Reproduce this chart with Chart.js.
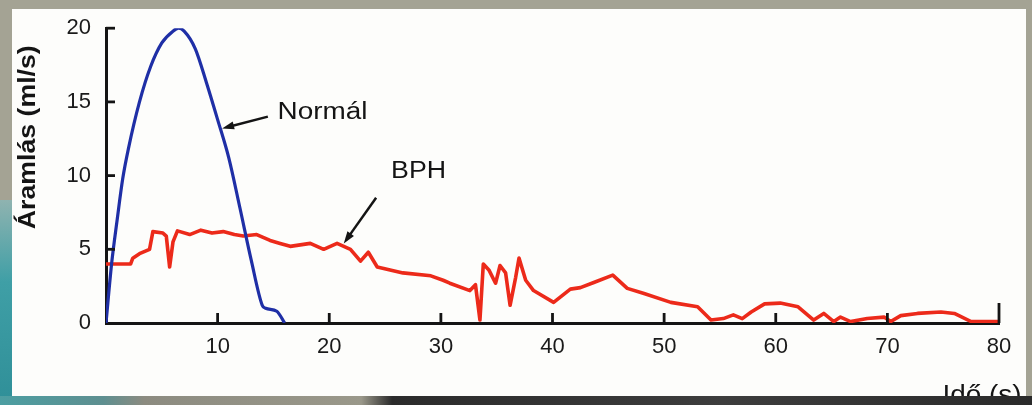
<!DOCTYPE html>
<html>
<head>
<meta charset="utf-8">
<script src="https://cdn.jsdelivr.net/npm/chart.js@4/dist/chart.umd.min.js"></script>
<style>
  html, body { margin: 0; padding: 0; }
  body { width: 1032px; height: 405px; overflow: hidden; position: relative; background: #a4a394; }
  #panel { position: absolute; left: 12px; top: 9px; width: 1014px; height: 390px; background: #fdfdfb; }
  #teal { position: absolute; left: 0; top: 200px; width: 12px; height: 205px; background: linear-gradient(#8fb3b0, #3f9fa6 40%, #2f8f98); }
  #wrap { position: absolute; left: 0; top: 0; width: 1032px; height: 405px; }
  #bottom { position: absolute; left: 0; top: 396px; width: 1032px; height: 9px; z-index: 2;
    background: linear-gradient(to right, #4c9ea2 0, #5e8f90 10%, #8c8b80 14%, #9a988a 35%, #2b2b2b 38%, #3d3d3d 70%, #2a2a2a 100%); }
</style>
</head>
<body>
<div id="panel"></div>
<div id="teal"></div>
<div id="wrap"><canvas id="flow"></canvas></div>
<div id="bottom"></div>
<script>
// ========== data ==========
const normalTime = [0, 0.5, 1, 1.5, 2, 3, 4, 5, 6, 6.5, 7, 8, 9, 10, 11, 12, 13, 14, 14.3, 15.3, 16];
const normalFlow = [0, 4, 7, 9.8, 11.8, 15, 17.4, 19, 19.8, 20, 19.8, 18.6, 16.3, 13.8, 11.2, 7.8, 4.3, 1.2, 1.0, 0.8, 0];

const bphTime = [0, 2.2, 2.4, 3.0, 3.9, 4.2, 5.1, 5.4, 5.7, 6.0, 6.4, 7.5, 8.5, 9.5, 10.5, 11.5, 12.3, 13.5,
  14.7, 15.6, 16.5, 18.3, 19.5, 20.7, 21.9, 22.8, 23.5, 24.3, 26.6, 29.1, 30.2, 30.8, 32.6, 33.1, 33.5, 33.8,
  34.3, 34.9, 35.3, 35.8, 36.2, 36.7, 37.0, 37.6, 38.3, 40.1, 41.6, 42.5, 43.7, 45.4, 46.7, 48.2, 50.6, 53.0,
  54.2, 55.3, 56.2, 57.0, 57.8, 59.0, 60.4, 62.0, 63.4, 64.3, 65.2, 65.8, 66.7, 68.2, 69.7, 70.3, 71.2, 72.7,
  74.8, 76.0, 77.5, 80];
const bphFlow = [4.0, 4.0, 4.4, 4.7, 5.0, 6.2, 6.1, 5.9, 3.8, 5.5, 6.25, 6.0, 6.3, 6.1, 6.2, 6.0, 5.9, 6.0,
  5.6, 5.4, 5.2, 5.4, 5.0, 5.4, 5.0, 4.2, 4.8, 3.8, 3.4, 3.2, 2.9, 2.7, 2.2, 2.6, 0.2, 4.0,
  3.6, 2.7, 3.9, 3.4, 1.2, 3.1, 4.4, 2.9, 2.2, 1.4, 2.3, 2.4, 2.75, 3.25, 2.35, 2.0, 1.4, 1.1,
  0.2, 0.3, 0.55, 0.3, 0.75, 1.3, 1.35, 1.1, 0.2, 0.65, 0.1, 0.4, 0.1, 0.3, 0.4, 0.1, 0.5, 0.65,
  0.75, 0.65, 0.1, 0.1];

const xTicks = [0, 10, 20, 30, 40, 50, 60, 70, 80];
const yTicks = [0, 5, 10, 15, 20];

const yTitle = 'Áramlás (ml/s)';
const xTitle = 'Idő (s)';
const normalLabel = 'Normál';
const bphLabel = 'BPH';

// ========== helpers ==========
function stretchedText(ctx, str, px, py, font, width, angle) {
  ctx.save();
  ctx.font = font;
  ctx.translate(px, py);
  ctx.rotate(angle || 0);
  const w = ctx.measureText(str).width;
  ctx.scale(width / w, 1);
  ctx.textAlign = 'center';
  ctx.textBaseline = 'middle';
  ctx.fillText(str, 0, 0);
  ctx.restore();
}

function arrow(ctx, x1, y1, x2, y2) {
  const a = Math.atan2(y2 - y1, x2 - x1);
  ctx.beginPath();
  ctx.moveTo(x1, y1);
  ctx.lineTo(x2 - 8 * Math.cos(a), y2 - 8 * Math.sin(a));
  ctx.stroke();
  ctx.beginPath();
  ctx.moveTo(x2, y2);
  ctx.lineTo(x2 - 12 * Math.cos(a) + 4 * Math.sin(a), y2 - 12 * Math.sin(a) - 4 * Math.cos(a));
  ctx.lineTo(x2 - 12 * Math.cos(a) - 4 * Math.sin(a), y2 - 12 * Math.sin(a) + 4 * Math.cos(a));
  ctx.closePath();
  ctx.fill();
}

// ticks pointing inward, labels, arrows
const extras = {
  id: 'extras',
  afterDraw(chart) {
    const { ctx, scales: { x, y } } = chart;
    ctx.save();
    ctx.strokeStyle = '#141414';
    ctx.fillStyle = '#141414';
    ctx.lineWidth = 2.8;
    x.ticks.forEach(t => {
      if (t.value <= 0) return;
      const px = x.getPixelForValue(t.value);
      const len = t.value === 80 ? 20 : 10;
      ctx.beginPath(); ctx.moveTo(px, y.bottom); ctx.lineTo(px, y.bottom - len); ctx.stroke();
    });
    y.ticks.forEach(t => {
      if (t.value <= 0) return;
      const py = y.getPixelForValue(t.value);
      ctx.beginPath(); ctx.moveTo(x.left, py); ctx.lineTo(x.left + 9, py); ctx.stroke();
    });

    // series labels
    stretchedText(ctx, normalLabel, x.getPixelForValue(19.4), y.getPixelForValue(14.3), '23px "Liberation Sans", Arial, sans-serif', 90);
    stretchedText(ctx, bphLabel, x.getPixelForValue(28.0), y.getPixelForValue(10.3), '23px "Liberation Sans", Arial, sans-serif', 55);
    ctx.lineWidth = 2.5;
    arrow(ctx, x.getPixelForValue(14.5), y.getPixelForValue(14.0), x.getPixelForValue(10.4), y.getPixelForValue(13.2));
    arrow(ctx, x.getPixelForValue(24.2), y.getPixelForValue(8.5), x.getPixelForValue(21.3), y.getPixelForValue(5.4));

    // axis titles
    stretchedText(ctx, yTitle, 29, y.getPixelForValue(12.6), 'bold 23px "Liberation Sans", Arial, sans-serif', 184, -Math.PI / 2);
    stretchedText(ctx, xTitle, 982, 396, '25px "Liberation Sans", Arial, sans-serif', 79);
    ctx.restore();
  }
};

// ========== chart ==========
function drawChart() {
  const ctx = document.getElementById('flow').getContext('2d');
  const tickFont = { family: '"Liberation Sans", Arial, sans-serif', size: 22 };

  new Chart(ctx, {
    type: 'line',
    data: {
      datasets: [
        {
          label: normalLabel,
          data: normalTime.map((t, i) => ({ x: t, y: normalFlow[i] })),
          borderColor: '#1f2fa6',
          borderWidth: 3.2,
          pointRadius: 0,
          tension: 0.4,
          cubicInterpolationMode: 'monotone',
          fill: false
        },
        {
          label: bphLabel,
          data: bphTime.map((t, i) => ({ x: t, y: bphFlow[i] })),
          borderColor: '#ec2a1a',
          borderWidth: 3.6,
          pointRadius: 0,
          tension: 0,
          borderJoinStyle: 'round',
          fill: false
        }
      ]
    },
    options: {
      responsive: true,
      maintainAspectRatio: false,
      animation: false,
      layout: { padding: { top: 25, right: 33, left: 0, bottom: 0 } },
      plugins: { legend: { display: false }, tooltip: { enabled: false } },
      scales: {
        x: {
          type: 'linear',
          min: 0,
          max: 80,
          afterBuildTicks: s => { s.ticks = xTicks.map(v => ({ value: v })); },
          afterFit: s => { s.height = 82; },
          grid: { display: false, drawTicks: false, tickLength: 0 },
          border: { display: true, color: '#141414', width: 3 },
          ticks: {
            color: '#1a1a1a',
            font: tickFont,
            padding: 11,
            maxRotation: 0,
            autoSkip: false,
            callback: v => (v === 0 ? '' : String(v))
          }
        },
        y: {
          type: 'linear',
          min: 0,
          max: 20,
          afterBuildTicks: s => { s.ticks = yTicks.map(v => ({ value: v })); },
          afterFit: s => { s.width = 106; },
          grid: { display: false, drawTicks: false, tickLength: 0 },
          border: { display: true, color: '#141414', width: 3 },
          ticks: { color: '#1a1a1a', font: tickFont, padding: 15 }
        }
      }
    },
    plugins: [extras]
  });
}

document.addEventListener('DOMContentLoaded', drawChart);
</script>
</body>
</html>
